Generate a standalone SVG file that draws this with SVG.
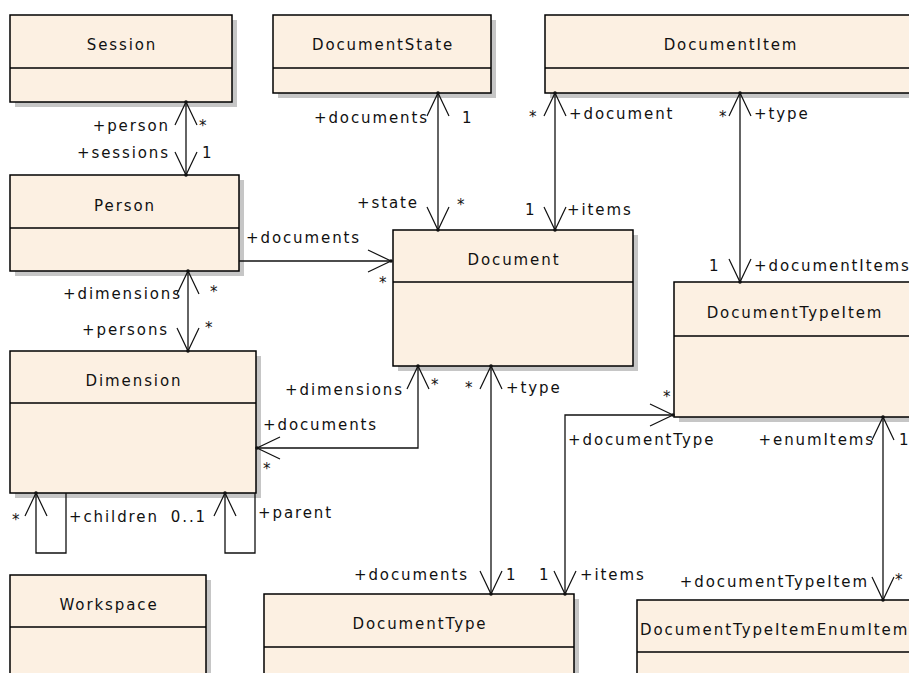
<svg xmlns="http://www.w3.org/2000/svg" width="909" height="673" viewBox="0 0 909 673">
<style>
.box{fill:#FCF0E2;stroke:#000;stroke-width:1.5}
.shadow{fill:#c6c6c6}
.dv{stroke:#000;stroke-width:1.5}
.title{font-family:"DejaVu Sans",sans-serif;font-size:15px;letter-spacing:1.9px;text-anchor:middle;fill:#111}
.lbl{font-family:"DejaVu Sans",sans-serif;font-size:15px;letter-spacing:1.9px;fill:#111}
.e{text-anchor:end}
.conn{fill:none;stroke:#111;stroke-width:1.3}
</style>
<defs>
<marker id="arr" markerUnits="userSpaceOnUse" markerWidth="30" markerHeight="30" refX="0" refY="0" orient="auto-start-reverse" style="overflow:visible">
<path d="M-23,-11 L0,0 L-23,11" fill="none" stroke="#111" stroke-width="1.2"/>
<circle cx="0" cy="0" r="1.8" fill="#111"/>
</marker>
</defs>
<rect width="909" height="673" fill="#fff"/>

<g id="Session">
<rect class="shadow" x="15" y="20" width="222" height="87"/>
<rect class="box" x="10" y="15" width="222" height="87"/>
<line class="dv" x1="10" y1="68" x2="232" y2="68"/>
<text class="title" x="122" y="50">Session</text>
</g>
<g id="DocumentState">
<rect class="shadow" x="278" y="20" width="218" height="78"/>
<rect class="box" x="273" y="15" width="218" height="78"/>
<line class="dv" x1="273" y1="68" x2="491" y2="68"/>
<text class="title" x="383" y="50">DocumentState</text>
</g>
<g id="DocumentItem">
<rect class="shadow" x="550" y="20" width="370" height="78"/>
<rect class="box" x="545" y="15" width="370" height="78"/>
<line class="dv" x1="545" y1="68" x2="915" y2="68"/>
<text class="title" x="731" y="50">DocumentItem</text>
</g>
<g id="Person">
<rect class="shadow" x="15" y="180" width="229" height="96"/>
<rect class="box" x="10" y="175" width="229" height="96"/>
<line class="dv" x1="10" y1="228" x2="239" y2="228"/>
<text class="title" x="125" y="211">Person</text>
</g>
<g id="Document">
<rect class="shadow" x="398" y="235" width="240" height="136"/>
<rect class="box" x="393" y="230" width="240" height="136"/>
<line class="dv" x1="393" y1="282" x2="633" y2="282"/>
<text class="title" x="514" y="265">Document</text>
</g>
<g id="DocumentTypeItem">
<rect class="shadow" x="679" y="287" width="245" height="135"/>
<rect class="box" x="674" y="282" width="245" height="135"/>
<line class="dv" x1="674" y1="336" x2="919" y2="336"/>
<text class="title" x="795" y="318">DocumentTypeItem</text>
</g>
<g id="Dimension">
<rect class="shadow" x="15" y="356" width="246" height="142"/>
<rect class="box" x="10" y="351" width="246" height="142"/>
<line class="dv" x1="10" y1="403" x2="256" y2="403"/>
<text class="title" x="134" y="386">Dimension</text>
</g>
<g id="Workspace">
<rect class="shadow" x="15" y="580" width="196" height="120"/>
<rect class="box" x="10" y="575" width="196" height="120"/>
<line class="dv" x1="10" y1="627" x2="206" y2="627"/>
<text class="title" x="109" y="610">Workspace</text>
</g>
<g id="DocumentType">
<rect class="shadow" x="269" y="599" width="310" height="100"/>
<rect class="box" x="264" y="594" width="310" height="100"/>
<line class="dv" x1="264" y1="647" x2="574" y2="647"/>
<text class="title" x="420" y="629">DocumentType</text>
</g>
<g id="DocumentTypeItemEnumItem">
<rect class="shadow" x="642" y="605" width="300" height="100"/>
<rect class="box" x="637" y="600" width="300" height="100"/>
<line class="dv" x1="637" y1="652" x2="937" y2="652"/>
<text class="lbl" x="640" y="635">DocumentTypeItemEnumItem</text>
</g>

<g id="connectors">
<path class="conn" d="M186,102 L186,175" marker-start="url(#arr)" marker-end="url(#arr)"/>
<path class="conn" d="M438,93 L438,230" marker-start="url(#arr)" marker-end="url(#arr)"/>
<path class="conn" d="M555,93 L555,230" marker-start="url(#arr)" marker-end="url(#arr)"/>
<path class="conn" d="M740,93 L740,282" marker-start="url(#arr)" marker-end="url(#arr)"/>
<path class="conn" d="M239,261 L391,261" marker-end="url(#arr)"/>
<path class="conn" d="M188,271 L188,351" marker-start="url(#arr)" marker-end="url(#arr)"/>
<path class="conn" d="M418,366 L418,448 L257,448" marker-start="url(#arr)" marker-end="url(#arr)"/>
<path class="conn" d="M491,366 L491,594" marker-start="url(#arr)" marker-end="url(#arr)"/>
<path class="conn" d="M673,415 L565,415 L565,594" marker-start="url(#arr)" marker-end="url(#arr)"/>
<path class="conn" d="M883,417 L883,600" marker-start="url(#arr)" marker-end="url(#arr)"/>
<path class="conn" d="M36,493 L36,553 L66,553 L66,493" marker-start="url(#arr)"/>
<path class="conn" d="M225,493 L225,553 L255,553 L255,493" marker-start="url(#arr)"/>
</g>

<g id="labels">
<text class="lbl e" x="170" y="131">+person</text>
<text class="lbl" x="199" y="131">*</text>
<text class="lbl e" x="170" y="158">+sessions</text>
<text class="lbl" x="202" y="158">1</text>
<text class="lbl e" x="429" y="123">+documents</text>
<text class="lbl" x="462" y="123">1</text>
<text class="lbl e" x="419" y="208">+state</text>
<text class="lbl" x="457" y="210">*</text>
<text class="lbl" x="529" y="122">*</text>
<text class="lbl" x="569" y="119">+document</text>
<text class="lbl" x="525" y="215">1</text>
<text class="lbl" x="567" y="215">+items</text>
<text class="lbl" x="719" y="122">*</text>
<text class="lbl" x="754" y="119">+type</text>
<text class="lbl" x="709" y="271">1</text>
<text class="lbl" x="754" y="271">+documentItems</text>
<text class="lbl" x="246" y="243">+documents</text>
<text class="lbl" x="379" y="288">*</text>
<text class="lbl e" x="182" y="299">+dimensions</text>
<text class="lbl" x="210" y="297">*</text>
<text class="lbl" x="82" y="335">+persons</text>
<text class="lbl" x="205" y="333">*</text>
<text class="lbl e" x="404" y="395">+dimensions</text>
<text class="lbl" x="431" y="390">*</text>
<text class="lbl" x="263" y="430">+documents</text>
<text class="lbl" x="263" y="474">*</text>
<text class="lbl" x="465" y="393">*</text>
<text class="lbl" x="506" y="393">+type</text>
<text class="lbl e" x="469" y="580">+documents</text>
<text class="lbl" x="506" y="580">1</text>
<text class="lbl" x="663" y="402">*</text>
<text class="lbl" x="568" y="445">+documentType</text>
<text class="lbl" x="539" y="580">1</text>
<text class="lbl" x="580" y="580">+items</text>
<text class="lbl e" x="875" y="445">+enumItems</text>
<text class="lbl" x="899" y="445">1</text>
<text class="lbl e" x="869" y="587">+documentTypeItem</text>
<text class="lbl" x="895" y="585">*</text>
<text class="lbl" x="12" y="525">*</text>
<text class="lbl" x="69" y="522">+children</text>
<text class="lbl e" x="207" y="522">0..1</text>
<text class="lbl" x="258" y="518">+parent</text>
</g>
</svg>
